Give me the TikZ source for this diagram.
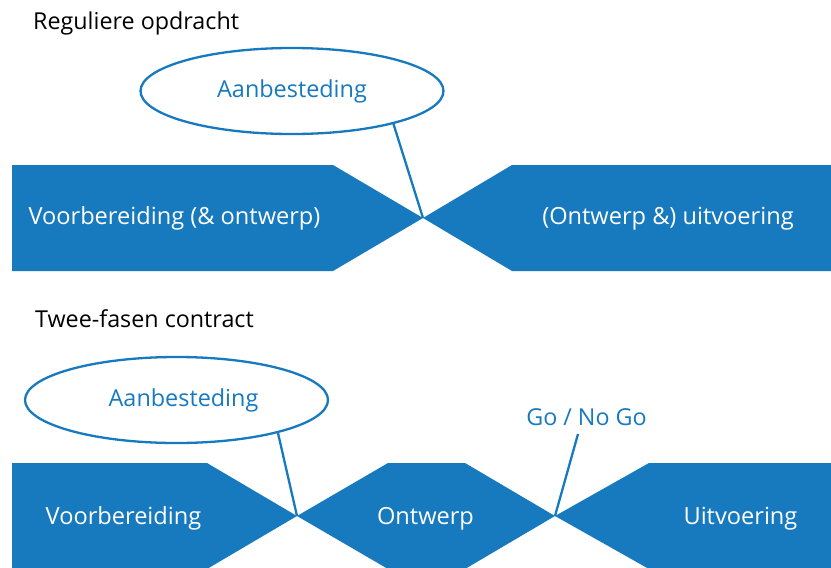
\documentclass[tikz,border=0pt]{standalone}
\usepackage{fontspec}
\setmainfont{Open Sans}
\usetikzlibrary{shapes.geometric}
\definecolor{rblue}{HTML}{1779BE}
\begin{document}
\begin{tikzpicture}[x=1pt,y=-1pt,
  band/.style={fill=rblue,draw=none},
  bubble/.style={ellipse,draw=rblue,line width=2.3pt,minimum width=303pt,minimum height=86pt,inner sep=0pt,text=rblue,font=\fontsize{23.4}{26}\selectfont},
  phase/.style={text=white,anchor=base,inner sep=0pt,font=\fontsize{23.6}{26}\selectfont},
  heading/.style={anchor=base west,inner sep=0pt,text=black,font=\fontsize{23.3}{26}\selectfont},
  link/.style={draw=rblue,line width=2.3pt}]
\useasboundingbox (0,0) rectangle (831,568);
% titles
\node[heading] (t1) at (33,29) {Reguliere opdracht};
\node[heading] (t2) at (35,327) {Twee-fasen contract};
% top band
\coordinate (j1) at (423,218);
\fill[band] (12,165) -- (333,165) -- (j1) -- (333,271) -- (12,271) -- cycle;
\fill[band] (j1) -- (512,165) -- (831,165) -- (831,271) -- (512,271) -- cycle;
\node[phase] (p1) at (174.5,224) {Voorbereiding (\& ontwerp)};
\node[phase] (p2) at (668,224) {(Ontwerp \&) uitvoering};
\node[bubble] (e1) at (292,91) {Aanbesteding};
\draw[link] (e1.-18.5) -- (j1);
% bottom band
\coordinate (j2) at (297,516);
\coordinate (j3) at (555,516);
\fill[band] (12,463) -- (207,463) -- (j2) -- (207,569) -- (12,569) -- cycle;
\fill[band] (j2) -- (388,463) -- (465,463) -- (j3) -- (465,569) -- (388,569) -- cycle;
\fill[band] (j3) -- (649,463) -- (831,463) -- (831,569) -- (649,569) -- cycle;
\node[phase] (p3) at (123.5,524) {Voorbereiding};
\node[phase] (p4) at (425.5,524) {Ontwerp};
\node[phase] (p5) at (740.5,524) {Uitvoering};
\node[bubble] (e2) at (176.5,400) {\hspace*{14pt}Aanbesteding};
\draw[link] (e2.-18.5) -- (j2);
\node[anchor=base,inner sep=0pt,text=rblue,font=\fontsize{23.3}{26}\selectfont] (g) at (586.5,425) {Go / No Go};
\coordinate (gl) at (578,434);
\draw[link] (gl) -- (j3);
\end{tikzpicture}
\end{document}
